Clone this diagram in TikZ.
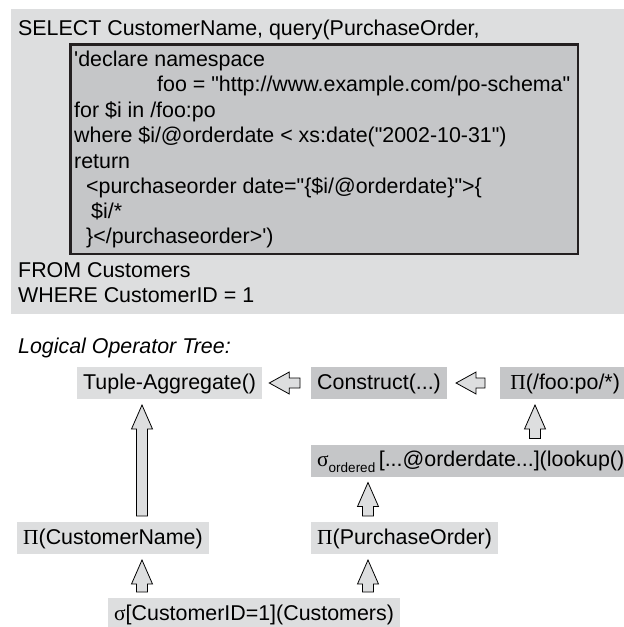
\documentclass[tikz,border=0pt]{standalone}
\usepackage{fontspec}
\newfontfamily\lsans{Liberation Sans}
\newfontfamily\grk{Liberation Serif}
\usetikzlibrary{positioning, calc}
\definecolor{panelgray}{RGB}{221,222,223}
\definecolor{opgray}{RGB}{197,198,200}
\definecolor{edgeblack}{RGB}{35,31,32}

\begin{document}
\begin{tikzpicture}[
    x=1pt, y=-1pt,
    every node/.style={font=\lsans\fontsize{21.4}{25}\selectfont},
    codeline/.style={anchor=base west, inner sep=0pt},
    litebox/.style={rectangle, fill=panelgray, anchor=west, inner xsep=6pt, inner ysep=0pt,
                    minimum height=32pt, text height=16pt, text depth=3.5pt, outer ysep=6pt},
    darkbox/.style={litebox, fill=opgray},
    blk/.style={draw=black, fill=panelgray, line width=0.8pt, line join=miter},
    upblk/.style={to path={let \p1=(\tikztostart), \p2=(\tikztotarget) in
        (\x1-5.5pt,\y1) -- (\x1-5.5pt,\y2-24pt) -- (\x1-10.5pt,\y2-24pt) -- (\x1,\y2)
        -- (\x1+10.5pt,\y2-24pt) -- (\x1+5.5pt,\y2-24pt) -- (\x1+5.5pt,\y1) -- cycle}},
    leftblk/.style={to path={let \p1=(\tikztostart), \p2=(\tikztotarget) in
        (\x1,\y1-5pt) -- (\x2+20pt,\y1-5pt) -- (\x2+20pt,\y1-11pt) -- (\x2,\y1)
        -- (\x2+20pt,\y1+11pt) -- (\x2+20pt,\y1+5pt) -- (\x1,\y1+5pt) -- cycle}}
]
\useasboundingbox (0,0) rectangle (624,627);
\clip (0,0) rectangle (624,627);

% SQL query panel
\node[fill=panelgray, anchor=north west, inner sep=0pt,
      minimum width=613pt, minimum height=305pt] (sqlpanel) at (11,9) {};
\node[draw=edgeblack, line width=2.5pt, fill=opgray, anchor=north west, inner sep=0pt,
      minimum width=507.5pt, minimum height=209.5pt] (xqbox) at (69.25,43.25) {};
\node[codeline] (sel)   at (18,35)  {SELECT CustomerName, query(PurchaseOrder,};
\node[codeline] (xq1)   at (74,66)  {\textquotesingle declare namespace};
\node[codeline] (xq2)   at (157,91.5) {foo = "http://www.example.com/po-schema"};
\node[codeline] (xq3)   at (74,117) {for \$i in /foo:po};
\node[codeline] (xq4)   at (74,142) {where \$i/@orderdate < xs:date("2002-10-31")};
\node[codeline] (xq5)   at (74,168) {return};
\node[codeline] (xq6)   at (86,193) {<purchaseorder date="\{\$i/@orderdate\}">\{};
\node[codeline] (xq7)   at (91,218) {\$i/*};
\node[codeline] (xq8)   at (86,243) {\}</purchaseorder>\textquotesingle)};
\node[codeline] (from)  at (18,277) {FROM Customers};
\node[codeline] (where) at (18,302) {WHERE CustomerID = 1};

% Operator tree
\node[codeline, font=\lsans\fontsize{21.4}{25}\selectfont\itshape] (title) at (18,353) {Logical Operator Tree:};
\node[litebox] (tagg)  at (77,383)    {Tuple-Aggregate()};
\node[darkbox] (cons)  at (311,383)   {Construct(...)};
\node[darkbox, minimum width=130pt] (pfoo) at (500,383) {{\grk Π}(/foo:po/*)\hfill};
\node[darkbox] (sord)  at (311,460.5) {{\grk σ}\raisebox{-6pt}{\fontsize{13.5}{13.5}\selectfont ordered}\,[...@orderdate...](lookup()};
\node[litebox] (pcn)   at (17,538)    {{\grk Π}(CustomerName)};
\node[litebox] (ppo)   at (311,538)   {{\grk Π}(PurchaseOrder)};
\node[litebox] (scust) at (108,614)   {{\grk σ}[CustomerID=1](Customers)};

\coordinate (ax1) at (142,0);
\coordinate (ax2) at (368,0);
\coordinate (ax3) at (535,0);

% Block arrows
\draw[blk, leftblk] ([xshift=-11pt]cons.west) to ([xshift=7pt]tagg.east);
\draw[blk, leftblk] ([xshift=-15pt]pfoo.west) to ([xshift=9pt]cons.east);
\draw[blk, upblk] (pcn.north -| ax1) to (tagg.south -| ax1);
\draw[blk, upblk] (scust.north -| ax1) to (pcn.south -| ax1);
\draw[blk, upblk] (scust.north -| ax2) to (ppo.south -| ax2);
\draw[blk, upblk] (ppo.north -| ax2) to (sord.south -| ax2);
\draw[blk, upblk] (sord.north -| ax3) to (pfoo.south -| ax3);

\end{tikzpicture}
\end{document}
